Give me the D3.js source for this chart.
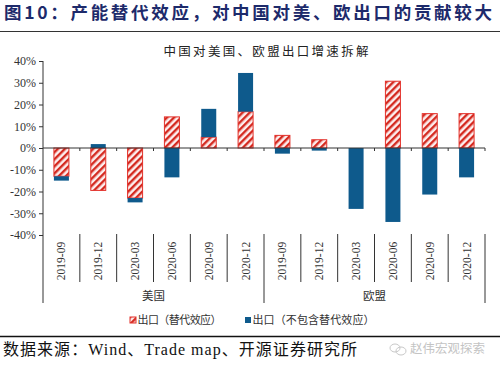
<!DOCTYPE html>
<html><head><meta charset="utf-8">
<script src="https://cdn.jsdelivr.net/npm/d3@7/dist/d3.min.js"></script>
<style>
html,body{margin:0;padding:0;background:#fff;}
svg{display:block;}
</style></head>
<body><svg id="c" width="500" height="370"></svg>
<script>
// ---- data ----
const groups = ["美国", "欧盟"];
const periods = ["2019-09", "2019-12", "2020-03", "2020-06", "2020-09", "2020-12"];
const substitution = [-13, -19.5, -23, 14.3, 5, 16.7, 5.8, 3.8, 0, 30.7, 15.8, 15.8];
const otherExport = [-2, 1.8, -2, -13.5, 13, 17.8, -2.6, -1.2, -28, -34, -21.4, -13.5];
const yTicks = [40, 30, 20, 10, 0, -10, -20, -30, -40];
const seriesNames = ["出口（替代效应）", "出口（不包含替代效应）"];

const rows = [];
groups.forEach((g, gi) => periods.forEach((p, pi) => {
  const i = gi * periods.length + pi;
  rows.push({key: g + "|" + p, group: g, period: p, sub: substitution[i], oth: otherExport[i]});
}));

const svg = d3.select("#c");
const serif = "'Liberation Serif','Times New Roman','Noto Sans CJK SC',serif";
const cjk = "'Liberation Serif','Noto Sans CJK SC',serif";

// pattern
const defs = svg.append("defs");
const pat = defs.append("pattern").attr("id", "hatch").attr("patternUnits", "userSpaceOnUse")
  .attr("width", 5).attr("height", 5).attr("patternTransform", "rotate(45)");
pat.append("rect").attr("width", 5).attr("height", 5).attr("fill", "#fdeeee");
pat.append("rect").attr("x", 0).attr("y", 0).attr("width", 2.4).attr("height", 5).attr("fill", "#d42a20");

// header
svg.append("text").attr("x", 4).attr("y", 19)
  .attr("font-family", "'Noto Sans CJK SC',sans-serif").attr("font-weight", "bold")
  .attr("font-size", 17.5).attr("fill", "#1d2a6b")
  .attr("textLength", 488).attr("lengthAdjust", "spacing")
  .text("图10：产能替代效应，对中国对美、欧出口的贡献较大");
svg.append("line").attr("x1", 0).attr("x2", 500).attr("y1", 31.5).attr("y2", 31.5)
  .attr("stroke", "#333").attr("stroke-width", 1);

svg.append("text").attr("x", 266).attr("y", 56).attr("text-anchor", "middle")
  .attr("font-family", cjk).attr("font-size", 12.5).attr("fill", "#222")
  .attr("textLength", 205).attr("lengthAdjust", "spacing")
  .text("中国对美国、欧盟出口增速拆解");

// scales
const x = d3.scaleBand().domain(rows.map(r => r.key)).range([43, 485]).paddingInner(0).paddingOuter(0);
const y = d3.scaleLinear().domain([-40, 40]).range([235, 61]);
const barW = 15;

// y axis
const yAxis = d3.axisLeft(y).tickValues(yTicks).tickSize(4).tickFormat(d => d + "%");
const ga = svg.append("g").attr("transform", "translate(43,0)").call(yAxis);
ga.select(".domain").remove();
ga.selectAll(".tick line").attr("stroke", "#333");
ga.selectAll(".tick text").attr("font-family", serif).attr("font-size", 12).attr("fill", "#333").attr("x", -7);
svg.append("line").attr("x1", 43).attr("x2", 43).attr("y1", 61).attr("y2", 303).attr("stroke", "#333");

// stacked bars
const stack = d3.stack().keys(["sub", "oth"]).offset(d3.stackOffsetDiverging);
const series = stack(rows);
const fills = {sub: "url(#hatch)", oth: "#0e5a8c"};
series.forEach(s => {
  svg.append("g").selectAll("rect").data(s).join("rect")
    .attr("x", d => x(d.data.key) + (x.bandwidth() - barW) / 2)
    .attr("width", barW)
    .attr("y", d => y(Math.max(d[0], d[1])))
    .attr("height", d => Math.abs(y(d[0]) - y(d[1])))
    .attr("fill", fills[s.key])
    .attr("stroke", s.key === "sub" ? "#e3302a" : "none")
    .attr("stroke-width", s.key === "sub" ? 1 : 0)
    .attr("display", d => Math.abs(d[1] - d[0]) < 0.01 ? "none" : null);
});

// zero axis line + ticks
svg.append("line").attr("x1", 43).attr("x2", 485).attr("y1", y(0)).attr("y2", y(0)).attr("stroke", "#333");
svg.append("g").selectAll("line").data(rows.slice(1).concat([null])).join("line")
  .attr("x1", (d, i) => 43 + x.bandwidth() * (i + 1))
  .attr("x2", (d, i) => 43 + x.bandwidth() * (i + 1))
  .attr("y1", y(0)).attr("y2", y(0) + 3).attr("stroke", "#333");

// category separators at bottom
rows.forEach((r, i) => {
  if (i === 0) return;
  const xx = x(r.key);
  const outer = i % periods.length === 0;
  svg.append("line").attr("x1", xx).attr("x2", xx).attr("y1", 234).attr("y2", outer ? 303 : 282)
    .attr("stroke", "#333");
});
svg.append("line").attr("x1", 485).attr("x2", 485).attr("y1", 234).attr("y2", 303).attr("stroke", "#333");

// period labels rotated
svg.append("g").selectAll("text").data(rows).join("text")
  .attr("transform", d => `translate(${x(d.key) + x.bandwidth() / 2 + 4},261) rotate(-90)`)
  .attr("text-anchor", "middle")
  .attr("font-family", serif).attr("font-size", 11.5).attr("fill", "#333")
  .text(d => d.period);

// group labels
groups.forEach((g, gi) => {
  const first = x(g + "|" + periods[0]);
  const cx = first + x.bandwidth() * periods.length / 2;
  svg.append("text").attr("x", cx).attr("y", 300).attr("text-anchor", "middle")
    .attr("font-family", cjk).attr("font-size", 11.5).attr("fill", "#333").text(g);
});

// legend
const leg = [{x: 130, fill: "url(#hatch)", stroke: "#e3302a", name: seriesNames[0], w: 84},
             {x: 245, fill: "#0e5a8c", stroke: "none", name: seriesNames[1], w: 122}];
leg.forEach(l => {
  svg.append("rect").attr("x", l.x).attr("y", 317).attr("width", 6).attr("height", 6)
    .attr("fill", l.fill).attr("stroke", l.stroke);
  svg.append("text").attr("x", l.x + 7.5).attr("y", 324).attr("font-family", cjk)
    .attr("font-size", 11).attr("fill", "#333")
    .attr("textLength", l.w).attr("lengthAdjust", "spacing").text(l.name);
});

// footer
svg.append("line").attr("x1", 0).attr("x2", 500).attr("y1", 336.5).attr("y2", 336.5)
  .attr("stroke", "#111").attr("stroke-width", 1.6);
svg.append("text").attr("x", 3).attr("y", 355).attr("font-family", cjk)
  .attr("font-size", 16).attr("fill", "#111")
  .attr("textLength", 354).attr("lengthAdjust", "spacing")
  .text("数据来源：Wind、Trade map、开源证券研究所");
// watermark
const wm = svg.append("g").attr("fill", "none").attr("stroke", "#c8c8c8");
wm.append("ellipse").attr("cx", 395).attr("cy", 348).attr("rx", 5).attr("ry", 4);
wm.append("ellipse").attr("cx", 401).attr("cy", 351).attr("rx", 5).attr("ry", 4);
svg.append("text").attr("x", 410).attr("y", 353).attr("font-family", "'Noto Sans CJK SC',sans-serif")
  .attr("font-size", 12.5).attr("fill", "#c4c4c4").text("赵伟宏观探索");
</script></body></html>
